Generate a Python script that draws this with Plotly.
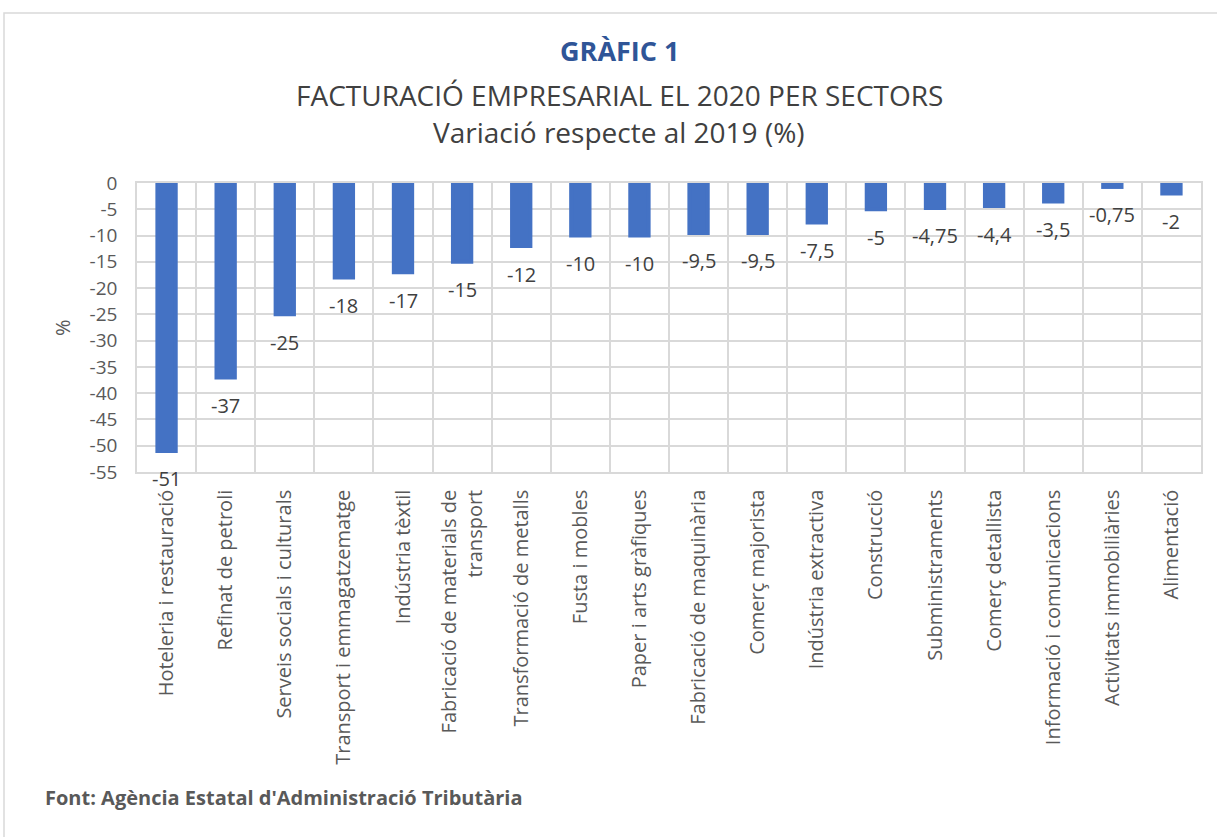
import plotly.graph_objects as go

categories = [
    "Hoteleria i restauració", "Refinat de petroli", "Serveis socials i culturals",
    "Transport i emmagatzematge", "Indústria tèxtil", "Fabricació de materials de<br>transport",
    "Transformació de metalls", "Fusta i mobles", "Paper i arts gràfiques",
    "Fabricació de maquinària", "Comerç majorista", "Indústria extractiva",
    "Construcció", "Subministraments", "Comerç detallista",
    "Informació i comunicacions", "Activitats immobiliàries", "Alimentació",
]
values = [-51, -37, -25, -18, -17, -15, -12, -10, -10, -9.5, -9.5, -7.5, -5, -4.75, -4.4, -3.5, -0.75, -2]
y_ticks = list(range(0, -60, -5))
labels = [f"{v:g}".replace(".", ",") for v in values]

W, H = 1217, 837
L, R, T, B = 137, 1201, 183, 472


def px_x(p):
    return (p - L) / (R - L)


def px_y(p):
    return (B - p) / (B - T)


TICK_FONT = "Open Sans, Segoe UI, sans-serif"
TITLE_FONT = "Open Sans, sans-serif"

fig = go.Figure()
fig.add_trace(go.Bar(
    x=categories, y=values,
    marker=dict(color="#4472C4", line=dict(color="#4472C4", width=4)),
    width=0.31,
))

for c, v, t in zip(categories, values, labels):
    fig.add_annotation(x=c, y=v, text=t, showarrow=False, yanchor="middle",
                       yshift=-28, font=dict(family=TICK_FONT, size=20, color="#404040"))

fig.add_annotation(xref="paper", yref="paper", x=px_x(619), y=px_y(50), text="<b>GRÀFIC 1</b>",
                   showarrow=False, xanchor="center", yanchor="middle",
                   font=dict(family=TITLE_FONT, size=27, color="#2F5597"))
fig.add_annotation(xref="paper", yref="paper", x=px_x(619), y=px_y(95),
                   text="FACTURACIÓ EMPRESARIAL EL 2020 PER SECTORS",
                   showarrow=False, xanchor="center", yanchor="middle",
                   font=dict(family=TITLE_FONT, size=28, color="#404040"))
fig.add_annotation(xref="paper", yref="paper", x=px_x(619), y=px_y(132),
                   text="Variació respecte al 2019 (%)",
                   showarrow=False, xanchor="center", yanchor="middle",
                   font=dict(family=TITLE_FONT, size=28, color="#404040"))
fig.add_annotation(xref="paper", yref="paper", x=px_x(43), y=px_y(797),
                   text="<b>Font: Agència Estatal d'Administració Tributària</b>",
                   showarrow=False, xanchor="left", yanchor="middle",
                   font=dict(family=TICK_FONT, size=20, color="#595959"))
fig.add_annotation(xref="paper", yref="paper", x=px_x(62), y=px_y(328), text="%",
                   showarrow=False, xanchor="center", yanchor="middle", textangle=-90,
                   font=dict(family=TICK_FONT, size=20, color="#595959"))

fig.add_shape(type="rect", xref="paper", yref="paper",
              x0=px_x(4), x1=px_x(1240), y0=px_y(860), y1=px_y(13),
              line=dict(color="#d9d9d9", width=1.5), fillcolor="rgba(0,0,0,0)", layer="below")

fig.update_layout(
    width=W, height=H,
    margin=dict(l=L, r=W - R, t=T, b=H - B),
    paper_bgcolor="white", plot_bgcolor="white",
    showlegend=False,
    xaxis=dict(
        type="category", tickson="boundaries", showgrid=True, gridcolor="#d9d9d9", gridwidth=1.5,
        showline=True, linecolor="#d9d9d9", linewidth=1.5, mirror=True,
        tickangle=-90, ticks="", ticklabelstandoff=8,
        tickfont=dict(family=TICK_FONT, size=20, color="#595959"),
        range=[-0.5, len(categories) - 0.5],
    ),
    yaxis=dict(
        range=[-55, 0], tickvals=y_ticks, ticktext=[str(v) for v in y_ticks],
        showgrid=True, gridcolor="#d9d9d9", gridwidth=1.5, zeroline=False,
        showline=True, linecolor="#d9d9d9", linewidth=1.5, mirror=True,
        ticks="", ticklabelstandoff=14,
        tickfont=dict(family=TICK_FONT, size=19, color="#595959"),
    ),
)

fig.write_html("out.html", config={"displayModeBar": False},
               post_script="document.body.style.margin='0';document.body.style.padding='0';")
